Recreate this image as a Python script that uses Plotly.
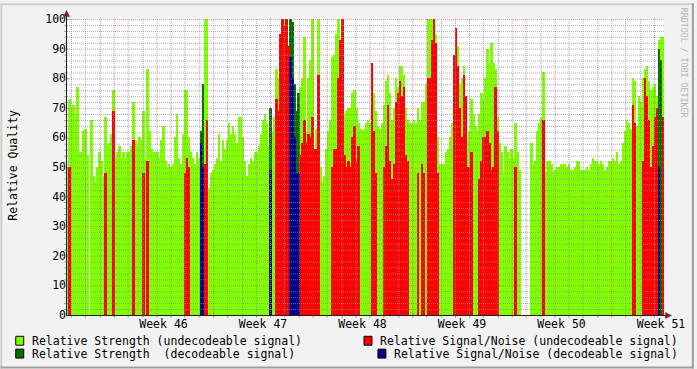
import plotly.graph_objects as go

# ---------------- data ----------------
N_BINS = 300            # consolidated data points across the graph
BIN_DAYS = 0.14         # 3.36 hours per point
X_START = -3.29         # days relative to Monday of week 46
X_END = X_START + N_BINS * BIN_DAYS

# Relative strength while signal is undecodeable (None = no data)
strength_undec = [
    50, 73, 70, 71, 68, 77, 55, 55, 62, 63,
    54, None, 66, 47, 45, 50, 55, 52, 47, 67,
    57, 58, 61, 76, 53, 55, 57, 53, 55, 53,
    55, 55, 57, 72, 59, 57, 60, 59, 69, 53,
    83, 62, 56, 55, 55, 55, 53, 59, 64, 52,
    50, 51, 50, 51, 60, 68, 53, 51, 61, 76,
    76, 60, 55, 53, 51, 55, 53, 0, 0, 100,
    100, 43, 48, 49, 51, 53, 61, 52, 59, 56,
    59, 65, 61, 64, 61, 58, 67, 67, 60, 52,
    47, 51, 53, 52, 55, 55, 57, 61, 66, 68,
    65, 57, 0, 62, 67, 83, 80, 70, 90, 90,
    84, 88, 0, 0, 0, 63, 70, 77, 80, 94,
    62, 80, 86, 100, 50, 63, 100, 50, 45, 47,
    56, 62, 66, 87, 88, 95, 100, 92, 100, 68,
    69, 70, 70, 75, 76, 70, 65, 63, 62, 63,
    65, 66, 65, 75, 75, 69, 64, 63, 65, 71,
    79, 81, 75, 66, 70, 80, 77, 84, 84, 81,
    70, 66, 65, 65, 66, 65, 70, 66, 72, 72,
    78, 100, 100, 100, 100, 95, 60, 51, 51, 51,
    55, 56, 60, 65, 88, 95, 91, 78, 80, 84,
    65, 59, 62, 73, 68, 64, 62, 68, 75, 73,
    80, 90, 85, 92, 85, 83, 67, 58, 55, 48,
    57, 55, 53, 56, 53, 65, 55, 49, None, None,
    None, None, None, 58, 51, 52, 62, 65, 67, 82,
    48, 52, 52, 51, 48, 49, 50, 50, 51, 51,
    51, 50, 51, 49, 49, 50, 52, 52, 49, 49,
    49, 50, 49, 51, 53, 52, 52, 51, 52, 51,
    49, 50, 52, 52, 53, 52, 55, 51, 52, 58,
    62, 66, 65, 63, 80, 79, 64, 74, 72, 80,
    83, 84, 79, 76, 77, 78, 74, 93, 94, 94,
]

# Relative signal/noise while undecodeable (index of data point, value)
snr_undec_idx = [1, 19, 23, 33, 38, 40, 59, 60, 61, 69, 70,
                 105, 106, 107, 108, 109, 110, 111, 117, 118, 119, 120, 121,
                 122, 123, 124, 125, 126, 133, 134, 135, 136, 137, 138, 139,
                 140, 141, 142, 143, 144, 145, 146, 153, 154, 155, 159, 160,
                 161, 162, 163, 164, 165, 166, 167, 168, 169, 170, 171, 176,
                 178, 179, 181, 182, 183, 184, 185, 186, 194, 195, 196, 197,
                 198, 199, 200, 201, 202, 203, 207, 208, 209, 210, 211, 212,
                 213, 214, 215, 216, 225, 239, 284, 285, 289, 290, 291, 292,
                 293, 294, 295, 296, 299]
snr_undec_val = [50, 48, 69, 59, 48, 52, 48, 53, 50, 51, 66,
                 73, 69, 95, 100, 98, 100, 91, 54, 58, 66, 58, 61,
                 60, 67, 56, 56, 81, 50, 56, 56, 80, 93, 100, 54,
                 50, 52, 50, 60, 64, 52, 57, 85, 62, 48, 50, 57,
                 71, 52, 46, 51, 72, 75, 79, 74, 77, 54, 52, 48,
                 51, 48, 80, 80, 93, 100, 92, 48, 88, 97, 84, 70,
                 60, 81, 74, 50, 50, 55, 46, 52, 60, 60, 62, 58,
                 49, 50, 77, 62, 50, 66, 71, 65, 52, 80, 74, 66,
                 50, 57, 67, 70, 67]

# Decodeable signal
strength_dec_idx = [67, 68, 102, 112, 113, 114, 115, 116, 297, 298]
strength_dec_val = [62, 78, 70, 100, 99, 78, 69, 75, 90, 86]
snr_dec_idx = [67, 68, 102, 112, 113, 114, 115, 116, 297]
snr_dec_val = [58, 50, 49, 87, 80, 60, 48, 48, 50]

week_labels = ["Week 46", "Week 47", "Week 48", "Week 49", "Week 50", "Week 51"]
week_label_days = [3.5, 10.5, 17.5, 24.5, 31.5, 38.5]   # mid-week
y_ticks = list(range(0, 101, 10))

legend_items = [
    ("Relative Strength (undecodeable signal)", "#80ff00"),
    ("Relative Strength  (decodeable signal)", "#007000"),
    ("Relative Signal/Noise (undecodeable signal)", "#ff0000"),
    ("Relative Signal/Noise (decodeable signal)", "#000088"),
]

# ---------------- styling ----------------
W, H = 697, 369
PL, PT, PW, PH = 67, 16, 600, 299
FONT = "DejaVu Sans Mono"
BACK = "#f2f2f2"
SHADE_A = "#cecece"
SHADE_B = "#9e9e9e"
GRID = "rgba(143,143,143,0.75)"
MGRID = "rgba(222,79,79,0.6)"
AXIS = "#1f1f1f"
ARROW = "#801f1f"


def centers(idx):
    return [X_START + (i + 0.5) * BIN_DAYS for i in idx]


def px_x(X):   # pixel column -> paper x
    return (X - PL) / PW


def px_y(Y):   # pixel row -> paper y
    return (PT + PH - Y) / PH


def day_to_px(d):
    return PL + PW * (d - X_START) / (X_END - X_START)


def val_to_px(v):
    return PT + PH * (1 - v / 100.0)


fig = go.Figure()
all_idx = list(range(N_BINS))
fig.add_trace(go.Bar(x=centers(all_idx), y=strength_undec, width=BIN_DAYS,
                     marker=dict(color="#80ff00", line=dict(width=0)),
                     name=legend_items[0][0]))
fig.add_trace(go.Bar(x=centers(strength_dec_idx), y=strength_dec_val, width=BIN_DAYS,
                     marker=dict(color="#007000", line=dict(width=0)),
                     name=legend_items[1][0]))
fig.add_trace(go.Bar(x=centers(snr_undec_idx), y=snr_undec_val, width=BIN_DAYS,
                     marker=dict(color="#ff0000", line=dict(width=0)),
                     name=legend_items[2][0]))
fig.add_trace(go.Bar(x=centers(snr_dec_idx), y=snr_dec_val, width=BIN_DAYS,
                     marker=dict(color="#000088", line=dict(width=0)),
                     name=legend_items[3][0]))

shapes = []


def hline(Y, X0, X1, color, dash=None, width=1):
    d = dict(type="line", xref="paper", yref="paper", layer="above",
             x0=px_x(X0), x1=px_x(X1), y0=px_y(Y), y1=px_y(Y),
             line=dict(color=color, width=width))
    if dash:
        d["line"]["dash"] = dash
    shapes.append(d)


def vline(X, Y0, Y1, color, dash=None, width=1):
    d = dict(type="line", xref="paper", yref="paper", layer="above",
             x0=px_x(X), x1=px_x(X), y0=px_y(Y0), y1=px_y(Y1),
             line=dict(color=color, width=width))
    if dash:
        d["line"]["dash"] = dash
    shapes.append(d)


# horizontal grid (minor every 2, major every 10)
for v in range(2, 101, 2):
    Y = int(round(val_to_px(v))) + 0.5
    major = v % 10 == 0
    hline(Y, PL, PL + PW, MGRID if major else GRID, dash="1px,1px")
    # ticks on the y axis
    if major:
        hline(Y, 64, 69, MGRID)
    else:
        hline(Y, 64, 66, GRID)

# vertical grid (minor every day, major every week)
d = -3
while d <= 38:
    X = int(round(day_to_px(d))) + 0.5
    major = d % 7 == 0
    vline(X, PT, PT + PH, MGRID if major else GRID, dash="1px,1px")
    if major:
        vline(X, 312, 318, MGRID)
    else:
        vline(X, 315, 318, GRID)
    d += 1

# axes
vline(66.5, 316, 11, AXIS)
hline(315.5, 66, 670, AXIS)
# arrows
shapes.append(dict(type="path", xref="paper", yref="paper", layer="above",
                   path="M {} {} L {} {} L {} {} Z".format(
                       px_x(63.5), px_y(13.5), px_x(69.5), px_y(13.5), px_x(66.5), px_y(7.5)),
                   fillcolor=ARROW, line=dict(color=ARROW, width=0.5)))
shapes.append(dict(type="path", xref="paper", yref="paper", layer="above",
                   path="M {} {} L {} {} L {} {} Z".format(
                       px_x(668.5), px_y(312.5), px_x(668.5), px_y(318.5), px_x(674.5), px_y(315.5)),
                   fillcolor=ARROW, line=dict(color=ARROW, width=0.5)))

# 3D frame of the image
shapes.append(dict(type="rect", xref="paper", yref="paper", layer="above",
                   x0=px_x(0), x1=px_x(W), y0=px_y(0), y1=px_y(2), fillcolor=SHADE_A, line=dict(width=0)))
shapes.append(dict(type="rect", xref="paper", yref="paper", layer="above",
                   x0=px_x(0), x1=px_x(2), y0=px_y(0), y1=px_y(H), fillcolor=SHADE_A, line=dict(width=0)))
shapes.append(dict(type="rect", xref="paper", yref="paper", layer="above",
                   x0=px_x(0), x1=px_x(W), y0=px_y(H - 2), y1=px_y(H), fillcolor=SHADE_B, line=dict(width=0)))
shapes.append(dict(type="rect", xref="paper", yref="paper", layer="above",
                   x0=px_x(W - 2), x1=px_x(W), y0=px_y(0), y1=px_y(H), fillcolor=SHADE_B, line=dict(width=0)))

# legend boxes + text
annotations = []
legend_pos = [(15, 336, 30), (15, 349, 30), (365, 336, 380), (379, 349, 394)]
for (label, color), (bx, by, tx) in zip(legend_items, legend_pos):
    shapes.append(dict(type="rect", xref="paper", yref="paper", layer="above",
                       x0=px_x(bx + 0.5), x1=px_x(bx + 8.5), y0=px_y(by + 0.5), y1=px_y(by + 9.5),
                       fillcolor=color, line=dict(color="#000000", width=1)))
    annotations.append(dict(xref="paper", yref="paper", x=px_x(tx), y=px_y(by + 5.5),
                            xanchor="left", yanchor="middle", showarrow=False, text=label,
                            font=dict(family=FONT, size=11.5, color="#000000")))

annotations.append(dict(xref="paper", yref="paper", x=px_x(12), y=px_y(164),
                        xanchor="center", yanchor="middle", showarrow=False,
                        text="Relative Quality", textangle=-90,
                        font=dict(family=FONT, size=11.5, color="#000000")))
annotations.append(dict(xref="paper", yref="paper", x=px_x(688), y=px_y(60),
                        xanchor="center", yanchor="middle", showarrow=False,
                        text="RRDTOOL / TOBI OETIKER", textangle=90,
                        font=dict(family=FONT, size=8.3, color="#b4b4b4")))

fig.update_layout(
    width=W, height=H,
    margin=dict(l=PL, r=W - PL - PW, t=PT, b=H - PT - PH, pad=0),
    paper_bgcolor=BACK, plot_bgcolor="#ffffff",
    barmode="overlay", bargap=0, showlegend=False,
    shapes=shapes, annotations=annotations,
    xaxis=dict(range=[X_START, X_END], showgrid=False, zeroline=False, showline=False,
               tickmode="array", tickvals=week_label_days, ticktext=week_labels, ticks="",
               tickfont=dict(family=FONT, size=11.5, color="#000000"), fixedrange=True),
    yaxis=dict(range=[0, 100], showgrid=False, zeroline=False, showline=False,
               tickmode="array", tickvals=y_ticks, ticks="",
               tickfont=dict(family=FONT, size=11.5, color="#000000"), fixedrange=True),
)

fig.write_html("out.html")
